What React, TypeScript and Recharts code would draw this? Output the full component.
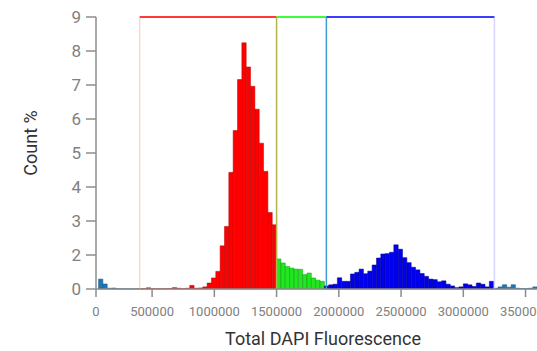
import { BarChart, Bar, Cell, XAxis, YAxis, ReferenceLine } from 'recharts';

// histogram bins (Count %), starting at bin FIRST_BIN, each BIN_WIDTH wide
const BIN_WIDTH = 34884;
const FIRST_BIN = 2;
const COUNTS = [
  1.08, 0.77, 0.3, 0.34, 0.2, 0.15, 0.15, 0.1, 0.15, 0.2,
  0.2, 0.38, 0.2, 0.15, 0.15, 0.2, 0.25, 0.4, 0.3, 0.2,
  0.3, 0.65, 0.3, 0.35, 0.5, 0.84, 1.14, 1.44, 2.27, 2.84,
  4.43, 5.66, 7.16, 8.24, 7.53, 6.96, 6.29, 5.29, 4.46, 3.25,
  2.89, 1.88, 1.75, 1.63, 1.57, 1.53, 1.52, 1.3, 1.37, 1.14,
  1.02, 0.95, 0.6, 0.7, 0.75, 1.15, 0.95, 0.95, 1.33, 1.4,
  1.53, 1.34, 1.45, 1.68, 1.91, 2.03, 2.04, 2.08, 2.3, 2.17,
  1.92, 1.76, 1.6, 1.5, 1.35, 1.22, 1.08, 1.05, 0.92, 0.98,
  0.75, 0.6, 0.4, 0.5, 0.78, 0.7, 0.55, 0.84, 0.75, 0.5,
  0.95, 0.3, 0.5, 0.71, 0.45, 0.71, 0.3, 0.25, 0.25, 0.3,
  0.5,
];

const X_TICKS = [0, 500000, 1000000, 1500000, 2000000, 2500000, 3000000, 3500000];
const Y_TICKS = [0, 2, 3, 4, 5, 6, 7, 8, 9];

// gates: G1 / S / G2
const GATE_EDGES = [400000, 1500000, 1900000, 3250000];
const GATE_FILLS = ['#ff0000', '#22e622', '#0000ee'];
const GATE_STROKES = ['#b80000', '#109a10', '#00008a'];
const GATE_TOPS = ['#ff3a3a', '#3cff3c', '#3c3cff'];
const EDGE_COLORS = ['#ffd4d4', '#b3b54a', '#3d9bd8', '#d6d6ff'];
const OUT_FILL = '#1f77b4';
const OUT_STROKE = '#175a88';

const W = 560;
const H = 351;
const MARGIN = { top: 17, right: 22, bottom: 12, left: 36 };
const Y_AXIS_W = 60;

// axis warps: both axes squeeze the region near zero
const X_KNEE = 61625;
const warpX = (v: number) => (v < X_KNEE ? v * 0.2 : v - X_KNEE * 0.8);
const warpY = (v: number) => (v < 2 ? (v * v) / 4 : v - 1);

function warpScale(fwd: (v: number) => number): any {
  let dom: number[] = [0, 1];
  let rng: number[] = [0, 1];
  const s: any = (v: number) => {
    const a = fwd(dom[0]);
    const b = fwd(dom[dom.length - 1]);
    return rng[0] + ((fwd(Number(v)) - a) / (b - a)) * (rng[rng.length - 1] - rng[0]);
  };
  s.domain = (d?: any[]) => {
    if (d === undefined) return dom.slice();
    dom = d.map(Number);
    return s;
  };
  s.range = (r?: any[]) => {
    if (r === undefined) return rng.slice();
    rng = r.map(Number);
    return s;
  };
  s.copy = () => warpScale(fwd).domain(dom).range(rng);
  s.ticks = (n = 5) => {
    const lo = dom[0];
    const hi = dom[dom.length - 1];
    const raw = (hi - lo) / Math.max(1, n);
    const p = Math.pow(10, Math.floor(Math.log10(raw)));
    const m = raw / p;
    const step = (m > 5 ? 10 : m > 2 ? 5 : m > 1 ? 2 : 1) * p;
    const out: number[] = [];
    for (let t = Math.ceil(lo / step) * step; t <= hi + 1e-9; t += step) out.push(t);
    return out;
  };
  s.tickFormat = () => (v: number) => String(v);
  s.clamp = () => s;
  s.nice = () => s;
  return s;
}

const xScale = warpScale(warpX);
const yScale = warpScale(warpY);

const X_MAX = 3600000;
const PLOT_W = W - MARGIN.left - MARGIN.right - Y_AXIS_W;
const BAR_PX = (BIN_WIDTH * PLOT_W) / (warpX(X_MAX) - warpX(0)) - 0.003;

const data = COUNTS.map((pct, i) => ({ x: (FIRST_BIN + i + 0.5) * BIN_WIDTH, pct }));

function gateOf(x: number) {
  for (let g = 0; g < GATE_FILLS.length; g++) {
    if (x >= GATE_EDGES[g] && x < GATE_EDGES[g + 1]) return g;
  }
  return -1;
}

const font = 'Roboto, "Noto Sans", sans-serif';

const XTitle = ({ viewBox }: any) => (
  <text
    x={viewBox.x + viewBox.width / 2 + 6}
    y={viewBox.y + 56}
    textAnchor="middle"
    fontSize={18}
    fill="#333"
    fontFamily={font}
  >
    Total DAPI Fluorescence
  </text>
);

const YTitle = ({ viewBox }: any) => {
  const cx = viewBox.x - 6;
  const cy = viewBox.y + viewBox.height / 2 - 10;
  return (
    <text
      x={cx}
      y={cy}
      transform={`rotate(-90 ${cx} ${cy})`}
      textAnchor="middle"
      dominantBaseline="central"
      fontSize={18}
      fill="#333"
      fontFamily={font}
    >
      Count %
    </text>
  );
};

export default function App() {
  return (
    <div style={{ position: 'fixed', left: 0, top: 0, width: 537, height: H, overflow: 'hidden', background: '#fff' }}>
      <BarChart width={W} height={H} data={data} margin={MARGIN} barCategoryGap={0} barGap={0}>
        <XAxis
          dataKey="x"
          type="number"
          scale={xScale}
          domain={[0, X_MAX]}
          ticks={X_TICKS}
          interval={0}
          height={50}
          tickSize={8}
          tickMargin={10}
          tick={{ fontSize: 13, fill: '#808080', fontFamily: font }}
          stroke="#8c8c8c"
          strokeWidth={1.5}
          label={<XTitle />}
        />
        <YAxis
          type="number"
          scale={yScale}
          domain={[0, 9]}
          ticks={Y_TICKS}
          interval={0}
          width={Y_AXIS_W}
          tickSize={10}
          tickMargin={5}
          tick={{ fontSize: 17, fill: '#808080', fontFamily: font }}
          stroke="#8c8c8c"
          strokeWidth={1.5}
          label={<YTitle />}
        />
        {GATE_EDGES.map((g, i) => (
          <ReferenceLine key={'e' + i} segment={[{ x: g, y: 0 }, { x: g, y: 9 }]} stroke={EDGE_COLORS[i]} strokeWidth={1.5} />
        ))}
        <Bar dataKey="pct" isAnimationActive={false} barSize={BAR_PX}>
          {data.map((d, i) => {
            const g = gateOf(d.x);
            return (
              <Cell
                key={i}
                fill={g < 0 ? OUT_FILL : GATE_FILLS[g]}
                stroke={g < 0 ? OUT_STROKE : GATE_STROKES[g]}
                strokeWidth={0.5}
              />
            );
          })}
        </Bar>
        {GATE_TOPS.map((c, i) => (
          <ReferenceLine
            key={'t' + i}
            segment={[{ x: GATE_EDGES[i], y: 9 }, { x: GATE_EDGES[i + 1], y: 9 }]}
            stroke={c}
            strokeWidth={2}
          />
        ))}
      </BarChart>
    </div>
  );
}
